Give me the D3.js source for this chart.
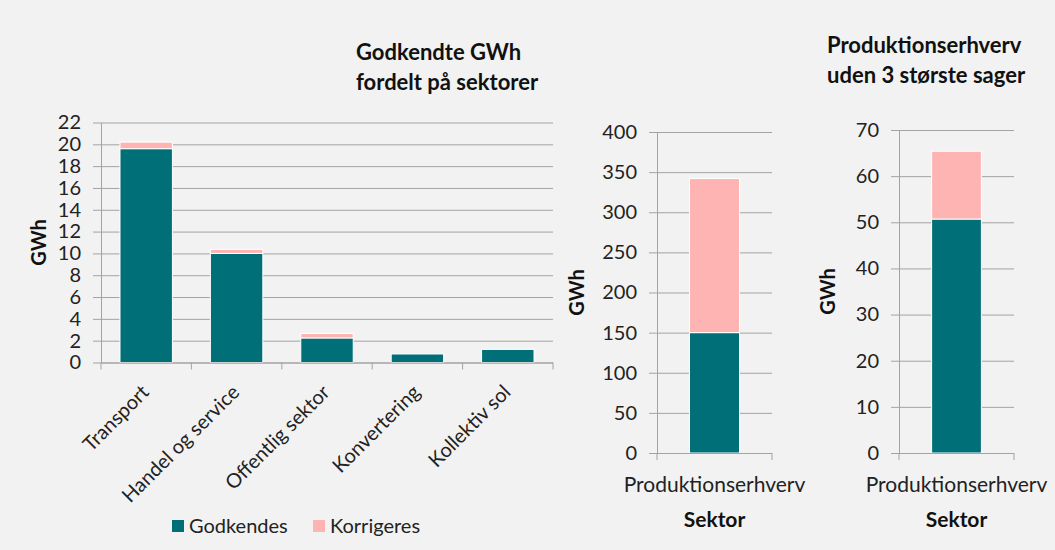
<!DOCTYPE html>
<html>
<head>
<meta charset="utf-8">
<script src="https://cdn.jsdelivr.net/npm/d3@7"></script>
<style>
  body { margin: 0; background: #f2f2f2; }
  svg { display: block; font-family: Lato, "Open Sans", sans-serif; }
</style>
</head>
<body>
<svg id="viz" width="1055" height="550"></svg>
<script>
// data
var sectors = ["Transport", "Handel og service", "Offentlig sektor", "Konvertering", "Kollektiv sol"];
var godkendes = [19.6, 10.0, 2.25, 0.78, 1.2];
var korrigeres = [0.6, 0.37, 0.41, 0, 0];

var prodSector = ["Produktionserhverv"];
var prodGodkendes = [150];
var prodKorrigeres = [192];

var udenGodkendes = [50.7];
var udenKorrigeres = [14.7];

var seriesNames = ["Godkendes", "Korrigeres"];
var ticks1 = [0, 2, 4, 6, 8, 10, 12, 14, 16, 18, 20, 22];
var ticks2 = [0, 50, 100, 150, 200, 250, 300, 350, 400];
var ticks3 = [0, 10, 20, 30, 40, 50, 60, 70];

var colors = { Godkendes: "#006f78", Korrigeres: "#ffb4b4" };
var gridColor = "#a3a3a3";

svg = d3.select("#viz");

svg.append("rect").attr("width", 1055).attr("height", 550).attr("fill", "#f2f2f2");

function panel(o) {
  var g = svg.append("g");

  var x = d3.scaleBand()
    .domain(o.cats)
    .range([o.left, o.right])
    .paddingInner(o.pi)
    .paddingOuter(o.po);

  var y = d3.scaleLinear()
    .domain([0, d3.max(o.ticks)])
    .range([o.bottom, o.top]);

  var rows = o.cats.map(function(c, i) {
    return { cat: c, Godkendes: o.a[i], Korrigeres: o.b[i] };
  });
  var stacked = d3.stack().keys(seriesNames)(rows);

  // gridlines
  g.append("g")
    .attr("transform", "translate(" + o.left + ",0)")
    .call(d3.axisLeft(y).tickValues(o.ticks).tickSize(-(o.right - o.left)).tickFormat(""))
    .call(function(s) {
      s.select(".domain").remove();
      s.selectAll("line").attr("stroke", gridColor);
    });

  // y axis
  g.append("g")
    .attr("transform", "translate(" + o.left + ",0)")
    .call(d3.axisLeft(y).tickValues(o.ticks).tickSize(8).tickPadding(12).tickSizeOuter(0))
    .call(function(s) {
      s.select(".domain").attr("stroke", gridColor);
      s.selectAll("line").attr("stroke", gridColor);
      s.selectAll("text")
        .attr("font-size", 20)
        .attr("font-family", "Lato, sans-serif")
        .attr("fill", "#222");
    });

  // bars
  g.selectAll(".series")
    .data(stacked)
    .enter().append("g")
    .attr("fill", function(d) { return colors[d.key]; })
    .selectAll("rect")
    .data(function(d) { return d; })
    .enter().append("rect")
    .filter(function(d) { return d[1] > d[0]; })
    .attr("x", function(d) { return x(d.data.cat); })
    .attr("y", function(d) { return y(d[1]); })
    .attr("width", x.bandwidth())
    .attr("height", function(d) { return y(d[0]) - y(d[1]); })
    .attr("stroke", "#fff")
    .attr("stroke-width", 1);

  // x axis line and boundary ticks
  g.append("line")
    .attr("x1", o.left).attr("x2", o.right)
    .attr("y1", o.bottom + 0.5).attr("y2", o.bottom + 0.5)
    .attr("stroke", gridColor);
  var bounds = d3.range(o.cats.length + 1).map(function(i) {
    return o.left + (o.right - o.left) * i / o.cats.length;
  });
  g.selectAll(".xt")
    .data(bounds)
    .enter().append("line")
    .attr("x1", function(d) { return d; }).attr("x2", function(d) { return d; })
    .attr("y1", o.bottom).attr("y2", o.bottom + 7)
    .attr("stroke", gridColor);

  // category labels
  if (o.rotate) {
    g.selectAll(".cat")
      .data(o.cats)
      .enter().append("text")
      .attr("transform", function(d) {
        return "translate(" + (x(d) + x.bandwidth() / 2 + 4) + "," + (o.bottom + 31) + ") rotate(-45)";
      })
      .attr("text-anchor", "end")
      .attr("font-size", 20)
      .attr("fill", "#222")
      .text(function(d) { return d; });
  } else {
    g.selectAll(".cat")
      .data(o.cats)
      .enter().append("text")
      .attr("x", function(d) { return x(d) + x.bandwidth() / 2; })
      .attr("y", o.bottom + 39)
      .attr("text-anchor", "middle")
      .attr("font-size", 21)
      .attr("fill", "#222")
      .text(function(d) { return d; });
    g.append("text")
      .attr("x", (o.left + o.right) / 2)
      .attr("y", o.bottom + 74)
      .attr("text-anchor", "middle")
      .attr("font-size", 21)
      .attr("font-weight", "bold")
      .attr("fill", "#111")
      .text("Sektor");
  }

  // y label
  g.append("text")
    .attr("transform", "translate(" + o.ylabX + "," + ((o.top + o.bottom) / 2) + ") rotate(-90)")
    .attr("text-anchor", "middle")
    .attr("font-size", 20)
    .attr("font-weight", "bold")
    .attr("fill", "#111")
    .text("GWh");

  // title
  if (o.title) {
    var t = g.append("text")
      .attr("font-size", 22)
      .attr("font-weight", "bold")
      .attr("fill", "#111");
    o.title.forEach(function(line, i) {
      t.append("tspan").attr("x", o.titleX).attr("y", o.titleY + i * 30).text(line);
    });
  }
}

panel({
  cats: sectors, a: godkendes, b: korrigeres, ticks: ticks1,
  left: 101, right: 553, top: 122.5, bottom: 362.5, pi: 0.42, po: 0.21,
  rotate: true, ylabX: 46,
  title: ["Godkendte GWh", "fordelt på sektorer"], titleX: 356, titleY: 60
});

panel({
  cats: prodSector, a: prodGodkendes, b: prodKorrigeres, ticks: ticks2,
  left: 657, right: 772, top: 132, bottom: 453, pi: 0.42, po: 0.377,
  rotate: false, ylabX: 584
});

panel({
  cats: prodSector, a: udenGodkendes, b: udenKorrigeres, ticks: ticks3,
  left: 899, right: 1014, top: 130, bottom: 453, pi: 0.42, po: 0.38,
  rotate: false, ylabX: 835,
  title: ["Produktionserhverv", "uden 3 største sager"], titleX: 827, titleY: 53
});

// legend
var legend = svg.append("g").attr("transform", "translate(172,527)");
var lx = [0, 141];
seriesNames.forEach(function(n, i) {
  legend.append("rect")
    .attr("x", lx[i]).attr("y", -7)
    .attr("width", 12).attr("height", 12)
    .attr("fill", colors[n]);
  legend.append("text")
    .attr("x", lx[i] + 17).attr("y", 6)
    .attr("font-size", 20)
    .attr("fill", "#222")
    .text(n);
});
</script>
</body>
</html>
